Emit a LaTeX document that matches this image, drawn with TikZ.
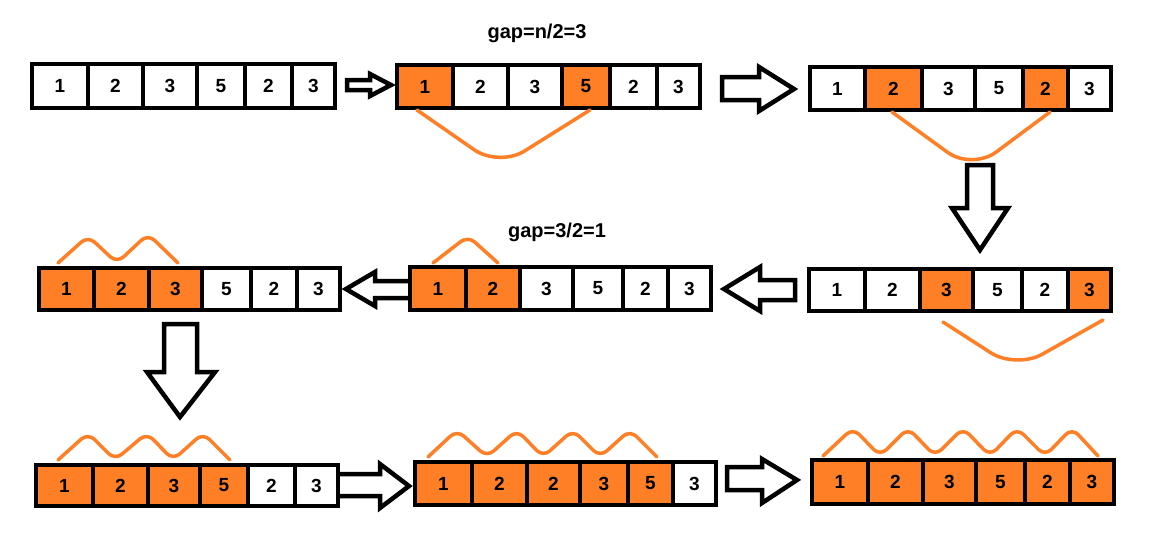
\documentclass[tikz,border=0pt]{standalone}
\usepackage{fontspec}
\setmainfont{Liberation Sans}
\usetikzlibrary{calc}
\definecolor{paintorange}{RGB}{255,127,39}
\tikzset{
  cellbox/.style={draw=black, line width=4.5pt, inner sep=0pt, text=black,
    font=\bfseries\fontsize{19}{19}\selectfont},
  blockarrow/.style={draw=black, fill=white, line width=4.5pt, line join=miter},
  hump/.style={draw=paintorange, line width=3.5pt, rounded corners=9pt, line cap=round},
  swing/.style={draw=paintorange, line width=3.5pt, line cap=round, rounded corners=30pt},
  gaplabel/.style={font=\bfseries\fontsize{20}{20}\selectfont, text=black}
}
\newcommand\cellrow[3]{%
  \foreach \nn/\xa/\xb/\vv/\ff in {#3}{%
    \node[cellbox, fill=\ff, minimum width={(\xb-\xa)*1pt}, minimum height={(#2-#1)*1pt}]
      (\nn) at ({(\xa+\xb)/2},{(#1+#2)/2}) {\vv};}}
\begin{document}
\begin{tikzpicture}[x=1pt,y=-1pt]
\useasboundingbox (0,0) rectangle (1169,542);
% block arrows
\draw[blockarrow] (347,80) -- (370,80) -- (370,74) -- (391,85) -- (370,96) -- (370,90) -- (347,90) -- cycle;
\draw[blockarrow] (722,77) -- (759,77) -- (759,67) -- (794,89) -- (759,111) -- (759,100) -- (722,100) -- cycle;
\draw[blockarrow] (967,165) -- (993,165) -- (993,208) -- (1008,208) -- (980,250) -- (952,208) -- (967,208) -- cycle;
\draw[blockarrow] (724,289) -- (760,267) -- (760,280) -- (795,280) -- (795,300) -- (760,300) -- (760,311) -- cycle;
\draw[blockarrow] (346,289) -- (375,272) -- (375,281) -- (412,281) -- (412,298) -- (375,298) -- (375,306) -- cycle;
\draw[blockarrow] (164,324) -- (197,324) -- (197,372) -- (215,372) -- (180,417) -- (147,372) -- (164,372) -- cycle;
\draw[blockarrow] (336,474) -- (380,474) -- (380,464) -- (409,486) -- (380,508) -- (380,496) -- (336,496) -- cycle;
\draw[blockarrow] (727,467) -- (762,467) -- (762,459) -- (797,480) -- (762,503) -- (762,490) -- (727,490) -- cycle;
% arrays
\cellrow{64}{108}{a1c1/32/88/1/white, a1c2/88/143/2/white, a1c3/143/197/3/white, a1c4/197/245/5/white, a1c5/245/292/2/white, a1c6/292/335/3/white}
\cellrow{65}{108}{a2c1/397/453/1/paintorange, a2c2/453/508/2/white, a2c3/508/562/3/white, a2c4/562/610/5/paintorange, a2c5/610/657/2/white, a2c6/657/700/3/white}
\cellrow{67}{110}{a3c1/810/865/1/white, a3c2/865/922/2/paintorange, a3c3/922/975/3/white, a3c4/975/1023/5/white, a3c5/1023/1068/2/paintorange, a3c6/1068/1111/3/white}
\cellrow{269}{311}{a4c1/809/865/1/white, a4c2/865/920/2/white, a4c3/920/973/3/paintorange, a4c4/973/1022/5/white, a4c5/1022/1068/2/white, a4c6/1068/1111/3/paintorange}
\cellrow{267}{310}{a5c1/410/466/1/paintorange, a5c2/466/520/2/paintorange, a5c3/520/573/3/white, a5c4/573/623/5/white, a5c5/623/668/2/white, a5c6/668/711/3/white}
\cellrow{268}{310}{a6c1/39/94/1/paintorange, a6c2/94/149/2/paintorange, a6c3/149/202/3/paintorange, a6c4/202/251/5/white, a6c5/251/297/2/white, a6c6/297/340/3/white}
\cellrow{465}{506}{a7c1/36/93/1/paintorange, a7c2/93/148/2/paintorange, a7c3/148/200/3/paintorange, a7c4/200/248/5/paintorange, a7c5/248/295/2/white, a7c6/295/338/3/white}
\cellrow{462}{505}{a8c1/415/472/1/paintorange, a8c2/472/527/2/paintorange, a8c3/527/580/2/paintorange, a8c4/580/628/3/paintorange, a8c5/628/673/5/paintorange, a8c6/673/716/3/white}
\cellrow{460}{504}{a9c1/812/868/1/paintorange, a9c2/868/923/2/paintorange, a9c3/923/976/3/paintorange, a9c4/976/1025/5/paintorange, a9c5/1025/1070/2/paintorange, a9c6/1070/1114/3/paintorange}
% labels
\node[gaplabel] (gap1) at (537,33) {gap=n/2=3};
\node[gaplabel] (gap2) at (557,232) {gap=3/2=1};
% orange swings
\draw[swing] (417,110) -- (499,167) -- (590,110);
\draw[swing] (892,112) -- (972,170) -- (1050,112);
\draw[swing] (943,322) -- (1016,369) -- (1103,320);
% humps
\draw[hump] (433,263) -- (468,236) -- (498,263);
\draw[hump] (58,263) -- (88,236) -- (117,263) -- (148,234) -- (178,263);
\draw[hump] (58,460) -- (88,433) -- (115,460) -- (147,433) -- (173,460) -- (203,433) -- (230,460);
\draw[hump] (428,457) -- (457,430) -- (487,457) -- (517,430) -- (543,457) -- (573,430) -- (600,457) -- (630,430) -- (657,457);
\draw[hump] (823,456) -- (853,428) -- (880,456) -- (908,428) -- (935,456) -- (963,428) -- (990,456) -- (1017,428) -- (1045,456) -- (1072,428) -- (1098,456);
\end{tikzpicture}
\end{document}
